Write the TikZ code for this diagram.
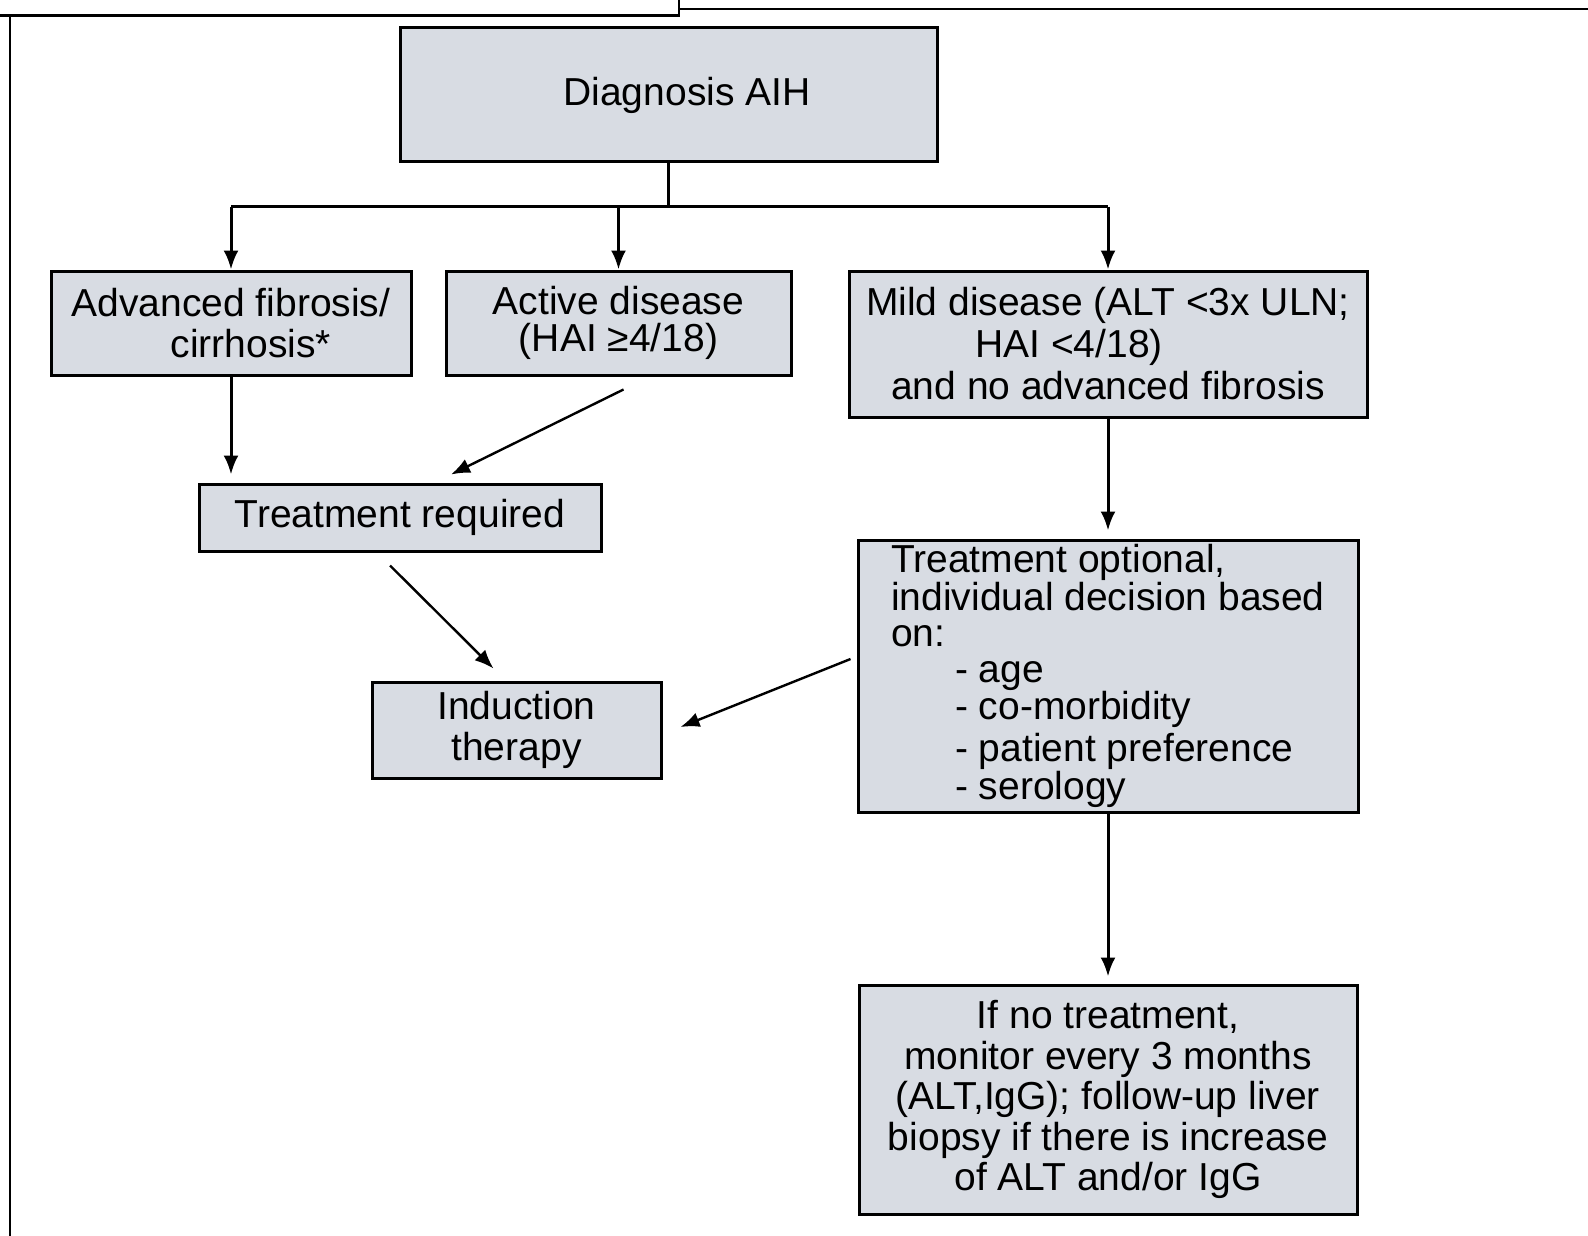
\documentclass[tikz,border=0pt]{standalone}
\usepackage{fontspec}
\setmainfont{Liberation Sans}
\usepackage{tikz}
\usetikzlibrary{arrows.meta,positioning}
\definecolor{boxfill}{HTML}{D8DCE3}

\begin{document}
\begin{tikzpicture}[
        x=1pt, y=-1pt,
        node distance=32pt,
        box/.style={draw, line width=3pt, fill=boxfill, inner sep=0pt, font={\fontsize{39}{41}\selectfont}},
        link/.style={line width=3pt, -{Latex[length=19pt,width=15pt]}},
        slant/.style={line width=2.4pt, -{Latex[length=19pt,width=15pt]}}
    ]
    \useasboundingbox (0,0) rectangle (1588,1236);
    \clip (0,0) rectangle (1588,1236);

    % frame of the page
    \draw[line width=2.5pt, fill=white] (-10,-20) rectangle (679,15.5);
    \draw[line width=2.5pt] (679,9) -- (1600,9);
    \draw[line width=2.5pt] (10,15.5) -- (10,1250);

    \node (diag) [box, minimum width=537pt, minimum height=134pt] at (668.5,95) {\hspace*{37pt}Diagnosis AIH};
    \node (adv) [box, align=center, minimum width=360pt, minimum height=104pt] at (231,323) {Advanced fibrosis/\\\hspace*{40pt}cirrhosis*};
    \node (act) [box, align=center, minimum width=345pt, minimum height=104pt, right=of adv, font={\fontsize{39}{37}\selectfont}] {Active disease\\(HAI ≥4/18)};
    \node (mild) [box, align=center, minimum width=518pt, minimum height=146pt, font={\fontsize{39}{42}\selectfont}] at (1108,344) {Mild disease (ALT <3x ULN;\\\hspace*{-78pt}HAI <4/18)\\and no advanced fibrosis};
    \node (treq) [box, minimum width=402pt, minimum height=67pt] at (400,517.5) {Treatment required};
    \node (ind) [box, align=center, minimum width=289pt, minimum height=96pt] at (516.5,730) {Induction\\therapy};
    \node (topt) [box, align=left, minimum width=500pt, minimum height=272pt, below=120pt of mild, font={\fontsize{39}{36}\selectfont}] {Treatment optional,\\individual decision based\\on:\\\hspace*{64pt}- age\\\hspace*{64pt}- co-morbidity\\[5pt]\hspace*{64pt}- patient preference\\\hspace*{64pt}- serology};
    \node (mon) [box, align=center, minimum width=498pt, minimum height=229pt, below=170pt of topt, font={\fontsize{39}{40.5}\selectfont}] {If no treatment,\\monitor every 3 months\\(ALT,IgG); follow-up liver\\biopsy if there is increase\\of ALT and/or IgG};

    \draw[line width=3pt] (diag.south) -- ++(0,43) coordinate (split);
    \draw[line width=3pt] (adv.north |- split) -- (mild.north |- split);
    \draw[link] (adv.north |- split) -- (adv.north);
    \draw[link] (act.north |- split) -- (act.north);
    \draw[link] (mild.north |- split) -- (mild.north);

    \draw[link, shorten >=8pt] (adv.south) -- (adv.south |- treq.north);
    \draw[slant] ([xshift=5pt,yshift=-13pt]act.south) -- ([xshift=51pt,yshift=8pt]treq.north);
    \draw[slant] ([xshift=-10pt,yshift=-13pt]treq.south) -- ([xshift=-23pt,yshift=12pt]ind.north);
    \draw[link, shorten >=8pt] (mild.south) -- (topt.north);
    \draw[slant] ([xshift=-6pt,yshift=17pt]topt.west) -- ([xshift=18pt,yshift=3pt]ind.east);
    \draw[link, shorten >=7pt] (topt.south) -- (mon.north);
\end{tikzpicture}
\end{document}
